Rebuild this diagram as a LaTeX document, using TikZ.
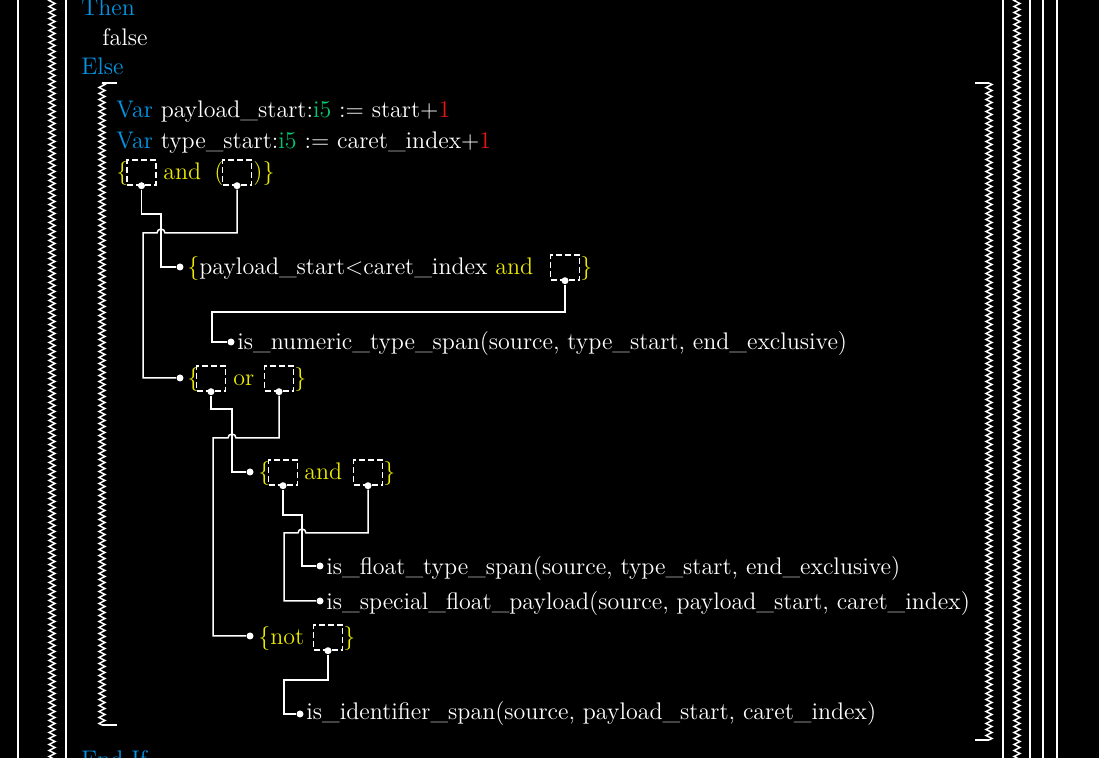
\documentclass[tikz,border=0pt]{standalone}
\usetikzlibrary{decorations.pathmorphing}
\definecolor{kwblue}{RGB}{0,150,230}
\definecolor{tygreen}{RGB}{0,200,110}
\definecolor{numred}{RGB}{235,20,20}
\definecolor{opyel}{RGB}{235,235,0}
\tikzset{
  txt/.style = {anchor=base west, inner sep=0pt, text=white, font=\fontsize{12}{14}\selectfont},
  yl/.style = {text=opyel},
  kw/.style = {text=kwblue},
  slot/.style = {draw=white, line width=0.7pt, dash pattern=on 3pt off 1.5pt, minimum width=14.5pt, minimum height=12.5pt, inner sep=0pt},
  dot/.style = {circle, fill=white, inner sep=0pt, minimum size=3.5pt},
  wire/.style = {draw=white, line width=0.75pt},
  zz/.style = {draw=white, line width=0.75pt, decorate, decoration={zigzag, segment length=3pt, amplitude=1.5pt}},
  bar/.style = {draw=white, line width=0.75pt}
}
\begin{document}
\begin{tikzpicture}[x=0.5pt, y=-0.5pt]
\useasboundingbox (0,0) rectangle (1099,758);
\fill[black] (0,0) rectangle (1099,758);
\clip (0,0) rectangle (1099,758);
% frames
\foreach \bx in {18,66,1003,1030,1043,1057}
  \draw[bar] (\bx,-10) -- (\bx,770);
\foreach \bx in {52,1017}
  \draw[zz] (\bx,-10) -- (\bx,770);
\draw[bar] (117,83) -- (102,83);
\draw[zz] (102,83) -- (102,725);
\draw[bar] (102,725) -- (117,725);
\draw[bar] (975,83) -- (989,83);
\draw[zz] (989,83) -- (989,740);
\draw[bar] (989,740) -- (975,740);
% plain lines
\node[txt,kw] (then) at (81,16) {Then};
\node[txt] (false) at (102,46) {false};
\node[txt,kw] (else) at (81,75) {Else};
\node[txt] (var1) at (116,118) {\textcolor{kwblue}{Var} payload\_start:\textcolor{tygreen}{i5} := start+\textcolor{numred}{1}};
\node[txt] (var2) at (116,149) {\textcolor{kwblue}{Var} type\_start:\textcolor{tygreen}{i5} := caret\_index+\textcolor{numred}{1}};
\node[txt,kw] (endif) at (81,768) {End If};
% {[] and ([])}
\node[txt,yl] (c1a) at (116,180) {\{};
\node[slot] (c1s1) at (141.5,172.5) {};
\node[txt,yl] (c1b) at (163,180) {and};
\node[txt,yl] (c1c) at (214,180) {(};
\node[slot] (c1s2) at (237,172.5) {};
\node[txt,yl] (c1d) at (253,180) {)\}};
% {payload_start<caret_index and []}
\node[txt] (c2a) at (187,275) {\textcolor{opyel}{\{}payload\_start<caret\_index \textcolor{opyel}{and}};
\node[slot] (c2s1) at (565,267.5) {};
\node[txt,yl] (c2b) at (580,275) {\}};
\node[txt] (num) at (237,350) {is\_numeric\_type\_span(source, type\_start, end\_exclusive)};
% {[] or []}
\node[txt,yl] (c3a) at (187,386) {\{};
\node[slot] (c3s1) at (211,378.5) {};
\node[txt,yl] (c3b) at (233,386) {or};
\node[slot] (c3s2) at (279,378.5) {};
\node[txt,yl] (c3c) at (294,386) {\}};
% {[] and []}
\node[txt,yl] (c4a) at (258,480) {\{};
\node[slot] (c4s1) at (283,472.5) {};
\node[txt,yl] (c4b) at (304,480) {and};
\node[slot] (c4s2) at (368,472.5) {};
\node[txt,yl] (c4c) at (383,480) {\}};
\node[txt] (flt) at (326,575) {is\_float\_type\_span(source, type\_start, end\_exclusive)};
\node[txt] (spc) at (326,610) {is\_special\_float\_payload(source, payload\_start, caret\_index)};
% {not []}
\node[txt,yl] (c5a) at (258,645) {\{not};
\node[slot] (c5s1) at (328,637.5) {};
\node[txt,yl] (c5b) at (343,645) {\}};
\node[txt] (ident) at (306,720) {is\_identifier\_span(source, payload\_start, caret\_index)};
% dots
\foreach \s in {c1s1,c1s2,c2s1,c3s1,c3s2,c4s1,c4s2,c5s1}
  \node[dot] (\s d) at (\s.south) {};
\node[dot] (t1) at (180,267) {};
\node[dot] (t2) at (180,378) {};
\node[dot] (t3) at (231,342) {};
\node[dot] (t4) at (250,472) {};
\node[dot] (t5) at (250,636) {};
\node[dot] (t6) at (320,566) {};
\node[dot] (t7) at (320,601) {};
\node[dot] (t8) at (300,714) {};
% wires
\draw[wire] (c1s1d) |- (161,214) |- (t1);
\draw[wire] (c1s2d) |- (165,233) arc[start angle=0, end angle=-180, radius=4] -- (143,233) |- (t2);
\draw[wire] (c2s1d) |- (212,312) |- (t3);
\draw[wire] (c3s1d) |- (232,409) |- (t4);
\draw[wire] (c3s2d) |- (236,438) arc[start angle=0, end angle=-180, radius=4] -- (213,438) |- (t5);
\draw[wire] (c4s1d) |- (302,515) |- (t6);
\draw[wire] (c4s2d) |- (306,533) arc[start angle=0, end angle=-180, radius=4] -- (284,533) |- (t7);
\draw[wire] (c5s1d) |- (284,680) |- (t8);
\end{tikzpicture}
\end{document}
